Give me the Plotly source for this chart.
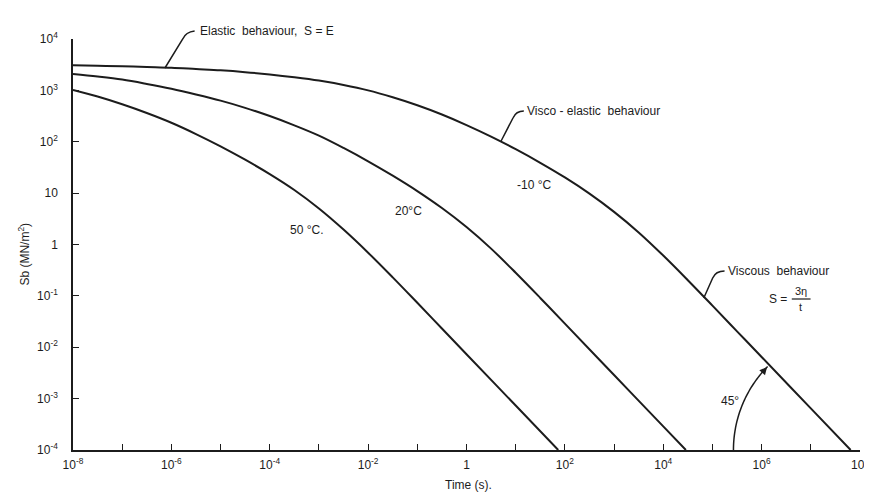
import math
import plotly.graph_objects as go

# ---------------- data (log10 units) ----------------
logt_m10 = [-8, -7.5, -7, -6.5, -6, -5.5, -5, -4.5, -4, -3.5, -3, -2.5, -2, -1.5, -1, -0.5,
            0, 0.5, 1, 1.5, 2, 2.5, 3, 3.5, 4, 4.5, 5, 5.5, 6, 7, 7.81]
logS_m10 = [3.49, 3.48, 3.47, 3.455, 3.44, 3.415, 3.39, 3.355, 3.31, 3.255, 3.19, 3.105, 3.0,
            2.865, 2.71, 2.53, 2.325, 2.10, 1.855, 1.59, 1.305, 0.99, 0.635, 0.235, -0.215,
            -0.695, -1.19, -1.69, -2.19, -3.19, -4.0]

logt_20 = [-8, -7.5, -7, -6.5, -6, -5.5, -5, -4.5, -4, -3.5, -3, -2.5, -2, -1.5, -1, -0.5,
           0, 0.5, 1, 1.5, 2, 3, 4, 4.46]
logS_20 = [3.32, 3.27, 3.21, 3.125, 3.03, 2.92, 2.8, 2.66, 2.5, 2.32, 2.12, 1.88, 1.62, 1.34,
           1.04, 0.71, 0.34, -0.08, -0.55, -1.04, -1.54, -2.54, -3.54, -4.0]

logt_50 = [-8, -7.5, -7, -6.5, -6, -5.5, -5, -4.5, -4, -3.5, -3, -2.5, -2, -1.5, -1, -0.5,
           0, 1, 1.865]
logS_50 = [3.01, 2.88, 2.73, 2.56, 2.37, 2.15, 1.91, 1.65, 1.37, 1.06, 0.70, 0.29, -0.16, -0.64,
           -1.135, -1.635, -2.135, -3.135, -4.0]

x_decades = list(range(-8, 9))
x_labels = ["10<sup>-8</sup>", "", "10<sup>-6</sup>", "", "10<sup>-4</sup>", "", "10<sup>-2</sup>", "",
            "1", "", "10<sup>2</sup>", "", "10<sup>4</sup>", "", "10<sup>6</sup>", "", "10<sup>8</sup>"]
y_decades = list(range(-4, 5))
y_labels = ["10<sup>-4</sup>", "10<sup>-3</sup>", "10<sup>-2</sup>", "10<sup>-1</sup>", "1", "10",
            "10<sup>2</sup>", "10<sup>3</sup>", "10<sup>4</sup>"]

# ---------------- layout geometry ----------------
W, H = 872, 492
L, R, T, B = 65, 861, 31, 442
INK = "#1c1c1c"
FONT = "Liberation Sans"


def px(x):
    return (x - L) / (R - L)


def py(y):
    return (B - y) / (B - T)


fig = go.Figure()
for lt, ls in [(logt_m10, logS_m10), (logt_20, logS_20), (logt_50, logS_50)]:
    fig.add_trace(go.Scatter(
        x=[10 ** v for v in lt], y=[10 ** v for v in ls], mode="lines",
        line=dict(color=INK, width=2, shape="spline", smoothing=1.0),
        hoverinfo="skip", showlegend=False))

shapes = []


def path_from(points):
    return "M " + " L ".join(f"{px(x):.5f},{py(y):.5f}" for x, y in points)


def leader(p0, p1, p2, p3):
    return (f"M {px(p0[0]):.5f},{py(p0[1]):.5f} L {px(p1[0]):.5f},{py(p1[1]):.5f} "
            f"Q {px(p2[0]):.5f},{py(p2[1]):.5f} {px(p3[0]):.5f},{py(p3[1]):.5f}")


for pts in [((158, 60), (176, 31), (179, 24), (188, 23)),
            ((498, 133), (510, 110), (513, 103), (521, 103)),
            ((703, 290), (712, 270), (715, 263), (724, 263))]:
    shapes.append(dict(type="path", xref="paper", yref="paper", path=leader(*pts),
                       line=dict(color=INK, width=1.5)))

# 45 degree arc
cx, cy, r = 851, 442, 118
arc = []
for i in range(0, 46):
    th = math.radians(180 - i)
    arc.append((cx + r * math.cos(th), cy - r * math.sin(th)))
shapes.append(dict(type="path", xref="paper", yref="paper", path=path_from(arc),
                   line=dict(color=INK, width=1.5)))
# fraction bar
shapes.append(dict(type="line", xref="paper", yref="paper", x0=px(792), x1=px(811),
                   y0=py(291), y1=py(291), line=dict(color=INK, width=1.2)))

annotations = []


def txt(s, x, y, size=12, anchor="left", angle=0):
    annotations.append(dict(text=s, x=px(x), y=py(y), xref="paper", yref="paper",
                            showarrow=False, xanchor=anchor, yanchor="middle",
                            textangle=angle, font=dict(size=size, color=INK, family=FONT)))


txt("Elastic  behaviour,  S = E", 191, 23)
txt("Visco - elastic  behaviour", 522, 103)
txt("Viscous  behaviour", 725, 263)
txt("S =", 767, 291)
txt("3η", 801, 283, size=11, anchor="center")
txt("t", 801, 299, size=11, anchor="center")
txt("50 °C.", 301, 222, anchor="center")
txt("20°C", 404, 203, anchor="center")
txt("-10 °C", 531, 177, anchor="center")
txt("45°", 730, 393, anchor="center")
txt("Time (s).", 465, 477, anchor="center")
txt("Sb (MN/m<sup>2</sup>)", 15, 246, anchor="center", angle=-90)

# arrow head on arc
annotations.append(dict(x=px(767), y=py(359), xref="paper", yref="paper", ax=-6, ay=7,
                        showarrow=True, arrowhead=2, arrowsize=1, arrowwidth=1.5,
                        arrowcolor=INK, text=""))

axis_common = dict(type="log", showline=True, linecolor=INK, linewidth=1.5, ticks="inside",
                   ticklen=6, tickwidth=1.3, tickcolor=INK, showgrid=False, zeroline=False,
                   tickfont=dict(size=12, color=INK, family=FONT))

fig.update_layout(
    width=W, height=H,
    margin=dict(l=L, r=W - R, t=T, b=H - B),
    paper_bgcolor="white", plot_bgcolor="white",
    showlegend=False,
    xaxis=dict(range=[-8, 8], tickvals=[10 ** k for k in x_decades], ticktext=x_labels,
               ticklabelstandoff=3, **axis_common),
    yaxis=dict(range=[-4, 4], tickvals=[10 ** k for k in y_decades], ticktext=y_labels,
               ticklabelstandoff=11, **axis_common),
    shapes=shapes, annotations=annotations,
)

fig.write_html("out.html")
